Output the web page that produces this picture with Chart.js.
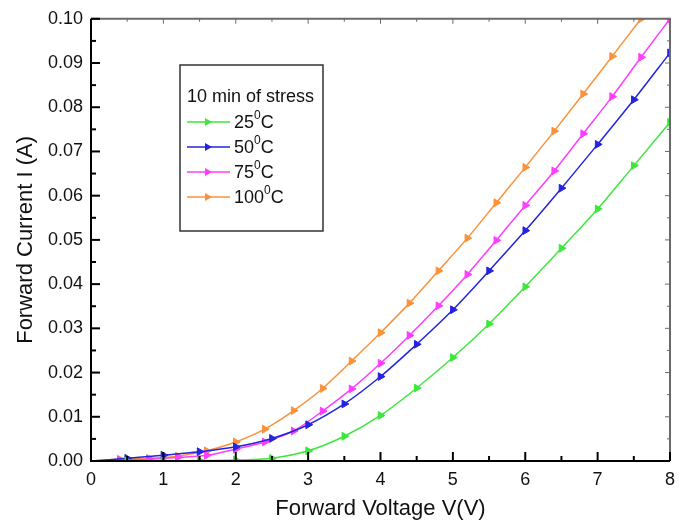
<!DOCTYPE html>
<html>
<head>
<meta charset="utf-8">
<script src="https://cdn.jsdelivr.net/npm/chart.js@4/dist/chart.umd.min.js"></script>
<style>
  body { margin: 0; background: #fff; }
  canvas { display: block; }
</style>
</head>
<body>
<canvas id="myChart" width="684" height="522"></canvas>
<script>
// forward voltage (V) and current (A)
const volts25 = [0, 0.5, 1, 1.5, 2, 2.5, 3, 3.5, 4, 4.5, 5, 5.5, 6, 6.5, 7, 7.5, 8];
const amps25 = [0, 0.0000, 0.0000, 0.0001, 0.0002, 0.0006, 0.0023, 0.0056, 0.0103, 0.0165, 0.0234, 0.0310, 0.0394, 0.0481, 0.0570, 0.0668, 0.0766];

const volts50 = [0, 0.5, 1, 1.5, 2, 2.5, 3, 3.5, 4, 4.5, 5, 5.5, 6, 6.5, 7, 7.5, 8];
const amps50 = [0, 0.0006, 0.0013, 0.0021, 0.0032, 0.0051, 0.0082, 0.0129, 0.0191, 0.0264, 0.0342, 0.0430, 0.0521, 0.0617, 0.0716, 0.0817, 0.0923];

const volts75 = [0, 0.4, 0.8, 1.2, 1.6, 2.0, 2.4, 2.8, 3.2, 3.6, 4.0, 4.4, 4.8, 5.2, 5.6, 6.0, 6.4, 6.8, 7.2, 7.6, 8.0];
const amps75 = [0, 0.0002, 0.0004, 0.0008, 0.0013, 0.0027, 0.0043, 0.0068, 0.0113, 0.0163, 0.0221, 0.0284, 0.0351, 0.0422, 0.0499, 0.0578, 0.0656, 0.0740, 0.0824, 0.0913, 0.1000];

const volts100 = [0, 0.4, 0.8, 1.2, 1.6, 2.0, 2.4, 2.8, 3.2, 3.6, 4.0, 4.4, 4.8, 5.2, 5.6, 6.0, 6.4, 6.8, 7.2, 7.6];
const amps100 = [0, 0.0004, 0.0006, 0.0011, 0.0023, 0.0043, 0.0072, 0.0114, 0.0164, 0.0226, 0.0290, 0.0357, 0.0430, 0.0504, 0.0584, 0.0664, 0.0746, 0.0830, 0.0915, 0.1000];

const temps = ["25", "50", "75", "100"];
const colors = ["#3be83b", "#2424e0", "#ff3cff", "#fb923a"];
const legendTitle = "10 min of stress";

const FONT = "'Liberation Sans', Arial, sans-serif";
const TEXT = "#111";

function toPoints(xs, ys) {
  return xs.map((x, i) => ({ x: x, y: ys[i] }));
}

const series = [
  toPoints(volts25, amps25),
  toPoints(volts50, amps50),
  toPoints(volts75, amps75),
  toPoints(volts100, amps100),
];

var data = {
  datasets: series.map((pts, i) => ({
    label: temps[i] + "\u2070C",
    data: pts,
    borderColor: colors[i],
    backgroundColor: colors[i],
    borderWidth: 1.5,
    pointStyle: "triangle",
    rotation: 90,
    pointRadius: (ctx) => (ctx.dataIndex === 0 ? 0 : 4.5),
    pointBorderWidth: 1,
    cubicInterpolationMode: "monotone",
  })),
};

// inward ticks + box frame
const framePlugin = {
  id: "frame",
  afterDraw(chart) {
    const ctx = chart.ctx;
    const a = chart.chartArea;
    const xs = chart.scales.x;
    const ys = chart.scales.y;
    ctx.save();
    // top / right in grey
    ctx.strokeStyle = "#6a6a6a";
    ctx.lineWidth = 2;
    ctx.beginPath();
    ctx.moveTo(a.left, a.top);
    ctx.lineTo(a.right, a.top);
    ctx.lineTo(a.right, a.bottom);
    ctx.stroke();
    ctx.lineWidth = 1;
    for (let v = 0; v <= 8; v += 0.5) {
      const px = xs.getPixelForValue(v);
      const len = Number.isInteger(v) ? 5 : 3;
      ctx.beginPath();
      ctx.moveTo(px, a.top);
      ctx.lineTo(px, a.top + len);
      ctx.stroke();
    }
    for (let k = 0; k <= 20; k++) {
      const py = ys.getPixelForValue(k * 0.005);
      const len = k % 2 === 0 ? 5 : 3;
      ctx.beginPath();
      ctx.moveTo(a.right, py);
      ctx.lineTo(a.right - len, py);
      ctx.stroke();
    }
    // left / bottom in black
    ctx.strokeStyle = "#000";
    ctx.lineWidth = 2;
    ctx.beginPath();
    ctx.moveTo(a.left, a.top);
    ctx.lineTo(a.left, a.bottom);
    ctx.lineTo(a.right, a.bottom);
    ctx.stroke();
    for (let v = 0; v <= 8; v += 0.5) {
      const px = xs.getPixelForValue(v);
      const len = Number.isInteger(v) ? 9 : 5;
      ctx.beginPath();
      ctx.moveTo(px, a.bottom);
      ctx.lineTo(px, a.bottom - len);
      ctx.stroke();
    }
    for (let k = 0; k <= 20; k++) {
      const py = ys.getPixelForValue(k * 0.005);
      const len = k % 2 === 0 ? 9 : 5;
      ctx.beginPath();
      ctx.moveTo(a.left, py);
      ctx.lineTo(a.left + len, py);
      ctx.stroke();
    }
    ctx.restore();
  },
};

// boxed legend inside the plot
const legendPlugin = {
  id: "boxLegend",
  afterDraw(chart) {
    const ctx = chart.ctx;
    ctx.save();
    ctx.strokeStyle = "#333";
    ctx.lineWidth = 1.5;
    ctx.strokeRect(180, 65, 143, 166);
    ctx.fillStyle = TEXT;
    ctx.textBaseline = "middle";
    ctx.font = "18px " + FONT;
    ctx.fillText(legendTitle, 187, 97);
    chart.data.datasets.forEach((ds, i) => {
      const y = 122 + i * 25;
      ctx.strokeStyle = ds.borderColor;
      ctx.lineWidth = 1.5;
      ctx.beginPath();
      ctx.moveTo(187, y);
      ctx.lineTo(230, y);
      ctx.stroke();
      ctx.fillStyle = ds.borderColor;
      ctx.beginPath();
      ctx.moveTo(205, y - 4);
      ctx.lineTo(212, y);
      ctx.lineTo(205, y + 4);
      ctx.closePath();
      ctx.fill();
      ctx.fillStyle = TEXT;
      ctx.font = "18px " + FONT;
      let x = 234;
      ctx.fillText(temps[i], x, y + 1);
      x += ctx.measureText(temps[i]).width;
      ctx.font = "12px " + FONT;
      ctx.fillText("0", x, y - 6);
      x += ctx.measureText("0").width;
      ctx.font = "18px " + FONT;
      ctx.fillText("C", x, y + 1);
    });
    ctx.restore();
  },
};

var config = {
  type: "line",
  data: data,
  options: {
    responsive: false,
    animation: false,
    layout: { padding: { top: 15, right: 14, left: 0, bottom: 0 } },
    plugins: {
      legend: { display: false },
      tooltip: { enabled: false },
    },
    scales: {
      x: {
        type: "linear",
        min: 0,
        max: 8,
        grid: { display: false, drawTicks: false },
        border: { display: false },
        ticks: {
          stepSize: 1,
          padding: 8,
          color: TEXT,
          font: { family: FONT, size: 18 },
          maxRotation: 0,
        },
        title: {
          display: true,
          text: "Forward Voltage V(V)",
          color: TEXT,
          font: { family: FONT, size: 22 },
          padding: { top: 4, bottom: 0 },
        },
        afterFit: (s) => { s.height = 61; },
      },
      y: {
        type: "linear",
        min: 0,
        max: 0.1,
        grid: { display: false, drawTicks: false },
        border: { display: false },
        ticks: {
          stepSize: 0.01,
          padding: 8,
          color: TEXT,
          font: { family: FONT, size: 18 },
          callback: (v) => v.toFixed(2),
        },
        title: {
          display: true,
          text: "Forward Current I (A)",
          color: TEXT,
          font: { family: FONT, size: 22 },
          padding: { top: 13, bottom: 0 },
        },
        afterFit: (s) => { s.width = 91; },
      },
    },
  },
  plugins: [framePlugin, legendPlugin],
};

const canvas = document.getElementById("myChart");
const myChart = new Chart(canvas.getContext("2d"), config);
</script>
</body>
</html>
